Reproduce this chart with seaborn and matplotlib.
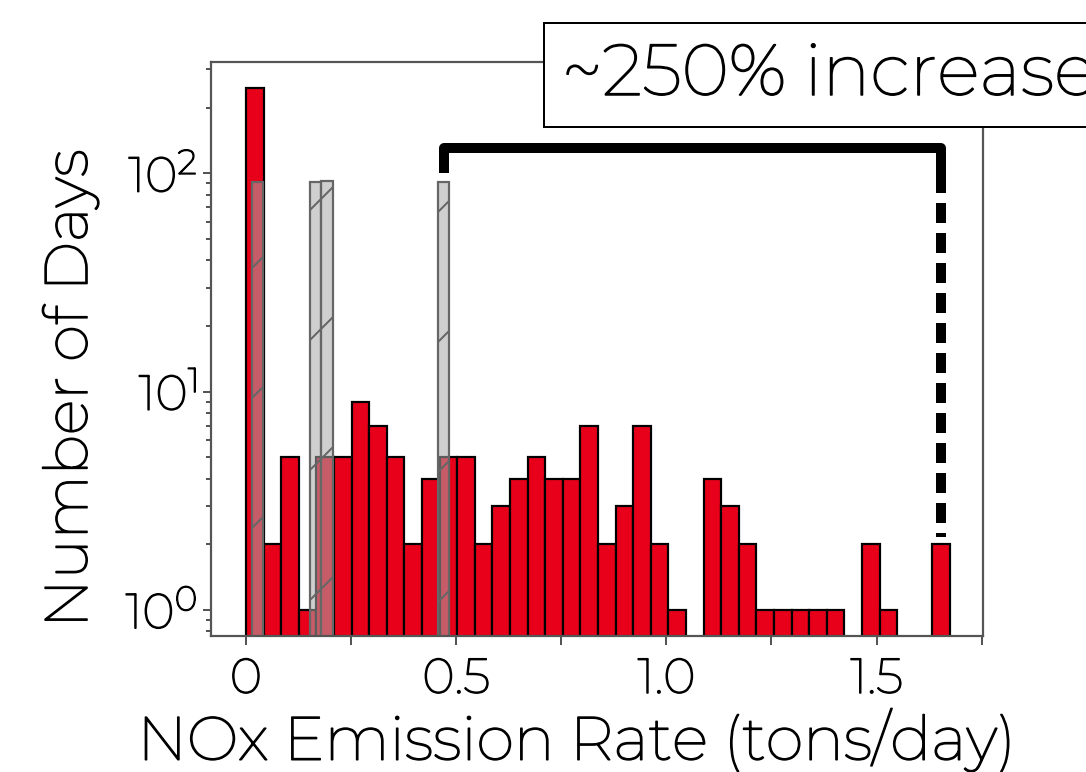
import numpy as np
import pandas as pd
import seaborn as sns
import matplotlib
import matplotlib.pyplot as plt
import matplotlib.patheffects as pe
from matplotlib.ticker import FixedLocator, FixedFormatter, LogLocator

# red histogram: 40 bins from 0 to ~1.675 tons/day
red_start = 0.0
red_width = 0.04186
red_counts = [247, 2, 5, 1, 5, 5, 9, 7, 5, 2,
              4, 5, 5, 2, 3, 4, 5, 4, 4, 7,
              2, 3, 7, 2, 1, 0, 4, 3, 2, 1,
              1, 1, 1, 1, 0, 2, 1, 0, 0, 2]

# gray (hatched) histogram: 17 bins from ~0.0136 to ~0.484
gray_start = 0.0136
gray_width = 0.02766
gray_counts = [91, 0, 0, 0, 0, 91, 92, 0, 0, 0,
               0, 0, 0, 0, 0, 0, 91]

x_ticks = [0, 0.25, 0.5, 0.75, 1.0, 1.25, 1.5, 1.75]
x_ticklabels = ["0", "", "0.5", "", "1.0", "", "1.5", ""]
note = "~250% increase"

DPI = 390
PX = 72 / DPI  # points per pixel

sns.set_style("ticks")
plt.rcParams["font.family"] = ["Montserrat", "Roboto", "DejaVu Sans"]
plt.rcParams["text.color"] = "black"
plt.rcParams["axes.labelcolor"] = "black"
plt.rcParams["xtick.color"] = "black"
plt.rcParams["ytick.color"] = "black"
plt.rcParams["mathtext.default"] = "regular"
plt.rcParams["hatch.linewidth"] = 2.0 * PX
plt.rcParams["hatch.color"] = "#555555"

# the installed Montserrat renders thin, thicken the glyphs a little
bold_ish = [pe.withStroke(linewidth=1.5 * PX, foreground="black")]


def hist_frame(start, width, counts):
    n = len(counts)
    edges = start + width * np.arange(n + 1)
    centers = (edges[:-1] + edges[1:]) / 2
    return pd.DataFrame({"x": centers, "w": counts}), [float(e) for e in edges]


red_df, red_edges = hist_frame(red_start, red_width, red_counts)
gray_df, gray_edges = hist_frame(gray_start, gray_width, gray_counts)

fig = plt.figure(figsize=(1086 / DPI, 772 / DPI), dpi=DPI)
ax = fig.add_axes([211 / 1086, 1 - 636 / 772, (983 - 211) / 1086, (636 - 62) / 772])

sns.histplot(data=red_df[red_df.w > 0], x="x", weights="w", bins=red_edges,
             color="#e8001a", alpha=1, edgecolor="black", linewidth=2.2 * PX, ax=ax)
sns.histplot(data=gray_df[gray_df.w > 0], x="x", weights="w", bins=gray_edges,
             color="#a9a9a9", alpha=0.55, edgecolor="#666666", linewidth=2.2 * PX,
             hatch="/", ax=ax)

ax.set_yscale("log")
ax.set_ylim(0.76, 324)
ax.set_xlim(-0.083, 1.753)

ax.xaxis.set_major_locator(FixedLocator(x_ticks))
ax.xaxis.set_major_formatter(FixedFormatter(x_ticklabels))
ax.yaxis.set_major_locator(LogLocator(base=10))
ax.yaxis.set_minor_locator(LogLocator(base=10, subs=np.arange(2, 10)))

for s in ax.spines.values():
    s.set_color("#555555")
    s.set_linewidth(2.2 * PX)

ax.tick_params(axis="x", which="major", direction="out", length=9 * PX, width=2 * PX,
               color="#555555", labelsize=49 * PX, pad=11 * PX)
ax.tick_params(axis="y", which="major", direction="out", length=8 * PX, width=2 * PX,
               color="#555555", labelsize=49 * PX, pad=6 * PX)
ax.tick_params(axis="y", which="minor", direction="out", length=5 * PX, width=2 * PX,
               color="#555555")

ax.set_xlabel("NOx Emission Rate (tons/day)", fontsize=61 * PX)
ax.xaxis.set_label_coords(0.4735, -0.125)
ax.set_ylabel("Number of Days", fontsize=60 * PX)
ax.yaxis.set_label_coords(-0.145, 0.43)

fig.canvas.draw()
for t in ax.get_xticklabels() + ax.get_yticklabels() + [ax.xaxis.label, ax.yaxis.label]:
    t.set_path_effects(bold_ish)

# bracket from the highest gray bin to the highest red bin
x0 = gray_df.x.iloc[-1]
x1 = red_df.x.iloc[-1]
ax.plot([x0, x0, x1, x1], [100, 131, 131, 100], color="black", lw=10 * PX,
        solid_joinstyle="round", solid_capstyle="butt", clip_on=False)
ax.plot([x1, x1], [100, 2.15], color="black", lw=10 * PX,
        linestyle=(0, (2.0, 1.0)), dash_capstyle="butt", clip_on=False)

fig.text(562 / 1086, 1 - 75 / 772, note, fontsize=72 * PX, ha="left", va="center",
         path_effects=bold_ish,
         bbox=dict(boxstyle="square,pad=0.25", facecolor="white", edgecolor="black",
                   linewidth=2 * PX))

fig.savefig("out.png", dpi=DPI)
